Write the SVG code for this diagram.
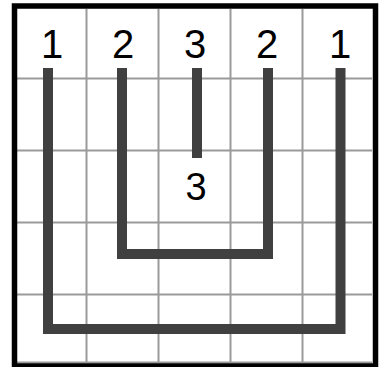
<svg xmlns="http://www.w3.org/2000/svg" width="386" height="367" viewBox="0 0 386 367">
<style>
.grid{stroke:#9a9a9a;stroke-width:2;fill:none}
.border{stroke:#000;stroke-width:5.5;fill:none}
.wire{stroke:#404040;stroke-width:10;fill:none;stroke-linecap:butt;stroke-linejoin:miter}
.num{font-family:"Liberation Sans",Arial,sans-serif;fill:#000;text-anchor:middle}
</style>
<rect x="0" y="0" width="386" height="367" fill="#fff"/>
<g id="grid">
<path class="grid" d="M86.5 9V363M158.5 9V363M230.5 9V363M302.5 9V363M17 78.5H372M17 150.5H372M17 222.5H372M17 294.5H372M17 362.5H372"/>
<rect class="border" x="14.5" y="6" width="361" height="360"/>
</g>
<g id="connectors">
<path class="wire" d="M48 68V329H340.5V68"/>
<path class="wire" d="M122 68V254H268V68"/>
<path class="wire" d="M197 68V158"/>
</g>
<g id="n1a"><text class="num" x="52" y="58" font-size="40">1</text></g>
<g id="n2a"><text class="num" x="123" y="58" font-size="40">2</text></g>
<g id="n3a"><text class="num" x="195" y="58" font-size="40">3</text></g>
<g id="n2b"><text class="num" x="267" y="58" font-size="40">2</text></g>
<g id="n1b"><text class="num" x="340" y="58" font-size="40">1</text></g>
<g id="n3b"><text class="num" x="196" y="200" font-size="38">3</text></g>
</svg>
